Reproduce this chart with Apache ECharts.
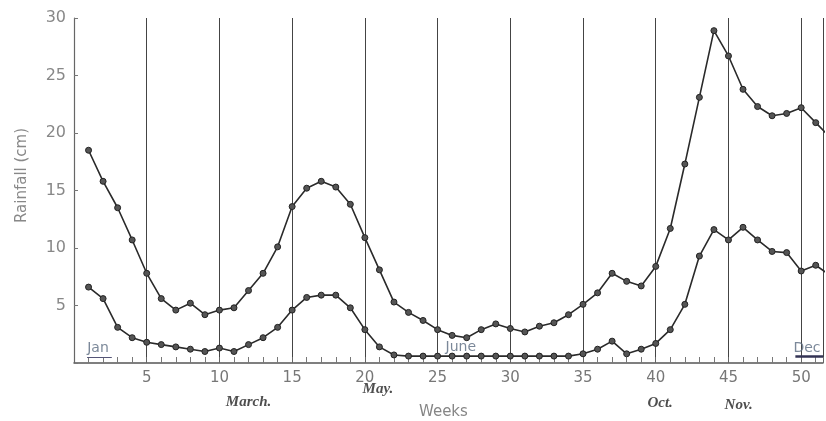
<!DOCTYPE html>
<html><head><meta charset="utf-8">
<script src="https://cdn.jsdelivr.net/npm/echarts@6/dist/echarts.min.js"></script>
<style>html,body{margin:0;padding:0;background:#fff}#c{width:826px;height:421px}</style>
</head><body><div id="c"></div>
<script>
const weeks = [1,2,3,4,5,6,7,8,9,10,11,12,13,14,15,16,17,18,19,20,21,22,23,24,25,26,27,28,29,30,31,32,33,34,35,36,37,38,39,40,41,42,43,44,45,46,47,48,49,50,51,52];
const upperRain = [18.5,15.8,13.5,10.7,7.8,5.6,4.6,5.2,4.2,4.6,4.8,6.3,7.8,10.1,13.6,15.2,15.8,15.3,13.8,10.9,8.1,5.3,4.4,3.7,2.9,2.4,2.2,2.9,3.4,3.0,2.7,3.2,3.5,4.2,5.1,6.1,7.8,7.1,6.7,8.4,11.7,17.3,23.1,28.9,26.7,23.8,22.3,21.5,21.7,22.2,20.9,19.6];
const lowerRain = [6.6,5.6,3.1,2.2,1.8,1.6,1.4,1.2,1.0,1.3,1.0,1.6,2.2,3.1,4.6,5.7,5.9,5.9,4.8,2.9,1.4,0.7,0.6,0.6,0.6,0.6,0.6,0.6,0.6,0.6,0.6,0.6,0.6,0.6,0.8,1.2,1.9,0.8,1.2,1.7,2.9,5.1,9.3,11.6,10.7,11.8,10.7,9.7,9.6,8.0,8.5,7.6];
const monthNames = ['March.','May.','Oct.','Nov.'];
const monthWeeks = [12.0,20.9,40.3,45.7];
const monthLevels = [-3.4,-2.3,-3.5,-3.65];
const insideNames = ['Jan','June','Dec'];
const insideWeeks = [1.65,26.6,50.4];
const insideLevels = [1.3,1.4,1.3];
const monthDivider = 22.3;

const chart = echarts.init(document.getElementById('c'));
const ser = (d) => ({
  type:'line', data: weeks.map((w,i)=>[w,d[i]]), symbol:'circle', symbolSize:6,
  lineStyle:{color:'#2a2a2a',width:1.6}, itemStyle:{color:'#555',borderColor:'#222',borderWidth:1},
  clip:true, z:3
});
const monthData = monthNames.map((n,i)=>({name:n,value:[monthWeeks[i],monthLevels[i]]}));
monthData.push({name:'Weeks',value:[25.4,-4.3],label:{color:'#666',fontFamily:'DejaVu Sans',fontStyle:'normal',fontWeight:'normal',fontSize:15}});
const insideData = insideNames.map((n,i)=>({name:n,value:[insideWeeks[i],insideLevels[i]]}));
chart.setOption({
  animation:false,
  backgroundColor:'#fff',
  grid:{left:74,right:0,top:18,bottom:58,containLabel:false},
  xAxis:{type:'value',min:0,max:51.5,interval:5,
    axisLine:{lineStyle:{color:'#555',width:1.5}},
    axisTick:{show:true,inside:true,length:6,lineStyle:{color:'#666'}},
    minorTick:{show:true,splitNumber:5,length:6,lineStyle:{color:'#777'}},
    axisLabel:{color:'#777',fontSize:15,fontFamily:'DejaVu Sans',margin:8,
      formatter:v=> (v>0 && v%5===0) ? String(v) : ''},
    splitLine:{show:true,lineStyle:{color:'#444',width:1}}},
  yAxis:{type:'value',min:0,max:30,interval:5,
    name:'Rainfall (cm)',nameLocation:'middle',nameGap:44,
    nameTextStyle:{color:'#888',fontSize:15,fontFamily:'DejaVu Sans',padding:[0,0,0,30]},
    axisLine:{show:true,lineStyle:{color:'#666',width:1.2}},
    axisTick:{show:true,inside:true,length:4,lineStyle:{color:'#777'}},
    axisLabel:{color:'#888',fontSize:16,fontFamily:'DejaVu Sans',margin:8,
      formatter:v=> v>0 ? String(v) : ''},
    splitLine:{show:false}},
  series:[
    ser(upperRain), ser(lowerRain),
    {type:'scatter',data:monthData,symbolSize:0,clip:false,silent:true,
      label:{show:true,position:'inside',formatter:'{b}',color:'#222',fontSize:15,fontStyle:'italic',fontWeight:'bold',fontFamily:'Liberation Serif'},
      markLine:{silent:true,symbol:'none',label:{show:false},lineStyle:{color:'#444',width:1.5,type:'solid'},
        data:[[{coord:[monthDivider,-0.3]},{coord:[monthDivider,-2.8]}]]}},
    {type:'scatter',data:insideData,symbolSize:0,clip:false,silent:true,
      label:{show:true,position:'inside',formatter:'{b}',color:'#5a6a80',fontSize:14,fontFamily:'DejaVu Sans'},
      markLine:{silent:true,symbol:'none',label:{show:false},lineStyle:{color:'#335',width:2.5,type:'solid'},
        data:[[{coord:[49.6,0.6]},{coord:[51.5,0.6]}],[{coord:[0.9,0.5],lineStyle:{width:1,color:'#557'}},{coord:[2.6,0.5],lineStyle:{width:1,color:'#557'}}]]}}
  ]
});
</script></body></html>
